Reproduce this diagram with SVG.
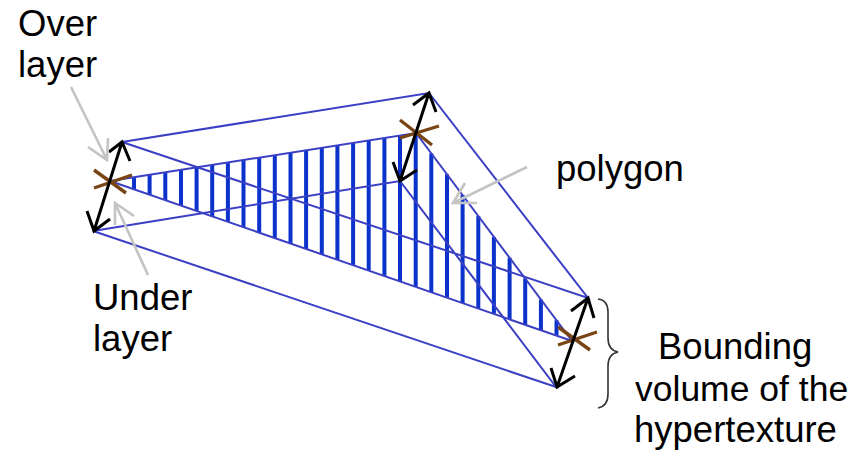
<svg xmlns="http://www.w3.org/2000/svg" width="851" height="451" viewBox="0 0 851 451">
<style>
text{font-family:"Liberation Sans",Arial,sans-serif;font-size:36.5px;fill:#000}
.e{fill:none;stroke:#3a3fc4;stroke-width:2}
.h{fill:none;stroke:#0b33cc;stroke-width:4}
.a{fill:none;stroke:#000;stroke-width:3}
.x{fill:none;stroke:#7a4515;stroke-width:3.4}
.g{fill:none;stroke:#c4c4c4;stroke-width:2.6}
.b{fill:none;stroke:#333;stroke-width:1.6}
</style>
<g id="connectors">
<path id="hatch" class="h" d="M134 177.2V189.3M149.6 174.8V194.7M165.3 172.3V200.1M181 169.9V205.6M196.6 167.4V211M212.2 165V216.4M227.9 162.5V221.8M243.5 160.1V227.2M259.2 157.6V232.6M274.8 155.2V238M290.5 152.7V243.5M306.1 150.2V248.9M321.8 147.8V254.3M337.4 145.3V259.7M353.1 142.9V265.1M368.7 140.4V270.5M384.4 138V275.9M400 135.5V281.3M415.7 133V286.8M431.3 153.4V292.2M447 174.3V297.6M462.6 195.1V303M478.3 216V308.4M493.9 236.9V313.8M509.6 257.8V319.3M525.2 278.6V324.7M540.9 299.5V330.1M556.5 320.3V335.5"/>
<path id="polygon" class="e" d="M110 181L416 133L572 341Z"/>
<path id="volume" class="e" d="M122 142L429 93L588 298ZM93 231L400 181L556 387Z"/>
<path class="x" d="M94 170L126 193M94 188L132 175M400 120L432 145M400 138L439 126M558 327L590 350M558 345L597 332"/>
<path class="a" d="M122 142L94 231M109 152L122 142L130 161M87 211L94 231L110 219"/>
<path class="a" d="M429 93L400 181M413 105L429 93L436 112M393 162L400 181L417 170"/>
<path class="a" d="M588 298L557 387M571 311L588 298L594 318M551 368L557 387L575 376"/>
<path class="g" d="M71 87L107 160M88 147L107 160L108 138"/>
<path class="g" d="M148 275L115 203M134 216L115 203L115 225"/>
<path class="g" d="M527 167L453 203M465 183L453 203L477 203"/>
<path id="brace" class="b" d="M598 299Q608 300 608 312V338Q608 350 618 352Q608 354 608 366V394Q608 406 598 408"/>
</g>
<g id="label-over"><text x="18" y="36">Over</text><text x="18" y="77">layer</text></g>
<g id="label-under"><text x="93" y="310">Under</text><text x="93" y="351">layer</text></g>
<g id="label-polygon"><text x="556" y="181">polygon</text></g>
<g id="label-bounding"><text x="658" y="359">Bounding</text><text x="635" y="401" style="font-size:35.5px">volume of the</text><text x="634" y="442">hypertexture</text></g>
</svg>
